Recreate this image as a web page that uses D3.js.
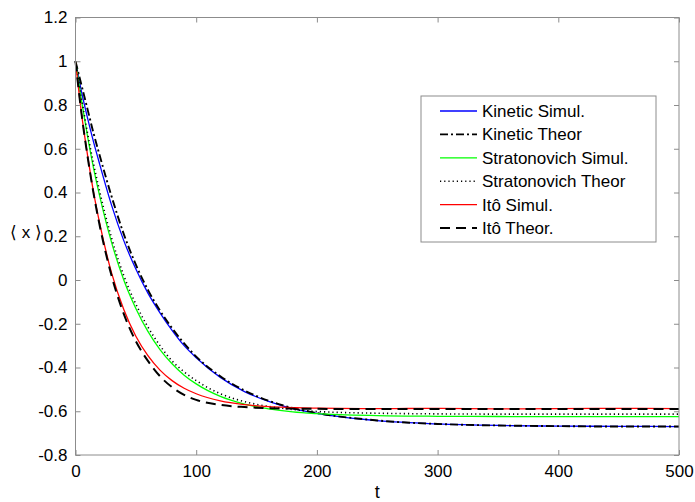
<!DOCTYPE html>
<html>
<head>
<meta charset="utf-8">
<script src="https://cdn.jsdelivr.net/npm/d3@7"></script>
<style>
  body { margin: 0; background: #fff; }
  svg text { font-family: "Liberation Sans", Arial, Helvetica, sans-serif; fill: #000; }
</style>
</head>
<body>
<svg id="chart" width="695" height="502"></svg>
<script>
// time samples
const tVals = [0, 5, 10, 15, 20, 30, 40, 50, 60, 70, 80, 90, 100, 120, 140, 160, 180, 200, 250, 300, 350, 400, 450, 500];

const kineticSimul = [1, 0.86, 0.74, 0.63, 0.53, 0.34, 0.18, 0.05, -0.06, -0.15, -0.23, -0.30, -0.355, -0.445, -0.51, -0.555, -0.588, -0.61, -0.643, -0.658, -0.665, -0.668, -0.669, -0.67];
const kineticTheor = [1, 0.89, 0.78, 0.67, 0.57, 0.38, 0.21, 0.07, -0.045, -0.14, -0.22, -0.29, -0.35, -0.44, -0.505, -0.552, -0.585, -0.608, -0.642, -0.658, -0.665, -0.668, -0.67, -0.67];
const stratSimul = [1, 0.82, 0.656, 0.51, 0.385, 0.17, 0.0, -0.13, -0.235, -0.318, -0.383, -0.435, -0.475, -0.532, -0.567, -0.589, -0.603, -0.611, -0.62, -0.623, -0.624, -0.625, -0.625, -0.625];
const stratTheor = [1, 0.83, 0.67, 0.53, 0.405, 0.19, 0.02, -0.11, -0.215, -0.30, -0.37, -0.42, -0.46, -0.52, -0.556, -0.578, -0.592, -0.601, -0.609, -0.612, -0.613, -0.613, -0.613, -0.613];
const itoSimul = [1, 0.76, 0.57, 0.40, 0.26, 0.03, -0.135, -0.257, -0.346, -0.412, -0.46, -0.495, -0.52, -0.553, -0.57, -0.579, -0.583, -0.586, -0.588, -0.587, -0.589, -0.588, -0.587, -0.588];
const itoTheor = [1, 0.76, 0.565, 0.395, 0.25, 0.017, -0.155, -0.28, -0.37, -0.44, -0.49, -0.525, -0.548, -0.571, -0.581, -0.586, -0.588, -0.589, -0.59, -0.59, -0.59, -0.59, -0.59, -0.59];

const seriesNames = ["Kinetic Simul.", "Kinetic Theor", "Stratonovich Simul.", "Stratonovich Theor", "Itô Simul.", "Itô Theor."];
const seriesValues = [kineticSimul, kineticTheor, stratSimul, stratTheor, itoSimul, itoTheor];
const seriesColors = ["#0000ff", "#000000", "#00ff00", "#000000", "#ff0000", "#000000"];
const seriesDash = [null, "8,3,2,3", null, "1.2,3", null, "10,6"];
const seriesWidth = [1.3, 1.9, 1.3, 1.6, 1.3, 2];

const xTicks = [0, 100, 200, 300, 400, 500];
const yTicks = [-0.8, -0.6, -0.4, -0.2, 0, 0.2, 0.4, 0.6, 0.8, 1, 1.2];

const box = {left: 75.5, right: 679, top: 17.5, bottom: 455};
const axisColor = "#8c8c8c";

const svg = d3.select("#chart");

const x = d3.scaleLinear().domain([0, 500]).range([box.left, box.right]);
const y = d3.scaleLinear().domain([-0.8, 1.2]).range([box.bottom, box.top]);

// curves
const line = d3.line()
  .x(d => x(d[0]))
  .y(d => y(d[1]))
  .curve(d3.curveMonotoneX);

seriesValues.forEach((vals, i) => {
  svg.append("path")
    .datum(tVals.map((t, j) => [t, vals[j]]))
    .attr("fill", "none")
    .attr("stroke", seriesColors[i])
    .attr("stroke-width", seriesWidth[i])
    .attr("stroke-dasharray", seriesDash[i])
    .attr("d", line);
});

// axes, ticks point inward on every side
const tickLen = 5;
const fmt = d => d3.format("")(d).replace("\u2212", "-");

svg.append("g")
  .attr("transform", `translate(0,${box.bottom})`)
  .call(d3.axisBottom(x).tickValues(xTicks).tickSizeInner(-tickLen).tickSizeOuter(0).tickPadding(10).tickFormat(fmt))
  .call(g => g.selectAll("text").attr("font-size", 17).attr("fill", "#000"));

svg.append("g")
  .attr("transform", `translate(${box.left},0)`)
  .call(d3.axisLeft(y).tickValues(yTicks).tickSizeInner(-tickLen).tickSizeOuter(0).tickPadding(8).tickFormat(fmt))
  .call(g => g.selectAll("text").attr("font-size", 17).attr("fill", "#000"));

svg.append("g")
  .attr("transform", `translate(0,${box.top})`)
  .call(d3.axisTop(x).tickValues(xTicks).tickSizeInner(-tickLen).tickSizeOuter(0).tickFormat(""));

svg.append("g")
  .attr("transform", `translate(${box.right},0)`)
  .call(d3.axisRight(y).tickValues(yTicks).tickSizeInner(-tickLen).tickSizeOuter(0).tickFormat(""));

svg.selectAll(".domain").remove();
svg.selectAll(".tick line").attr("stroke", axisColor);

svg.append("rect")
  .attr("x", box.left).attr("y", box.top)
  .attr("width", box.right - box.left).attr("height", box.bottom - box.top)
  .attr("fill", "none").attr("stroke", axisColor).attr("stroke-width", 1);

// axis labels
svg.append("text")
  .attr("x", (box.left + box.right) / 2).attr("y", 498)
  .attr("text-anchor", "middle").attr("font-size", 18)
  .text("t");

svg.append("text")
  .attr("x", 26).attr("y", 238)
  .attr("text-anchor", "middle").attr("font-size", 17)
  .text("\u27E8 x \u27E9");

// legend
const legend = svg.append("g");
legend.append("rect")
  .attr("x", 421).attr("y", 96).attr("width", 235).attr("height", 146)
  .attr("fill", "#fff").attr("stroke", axisColor).attr("stroke-width", 1);

seriesNames.forEach((name, i) => {
  const ly = 111 + i * 23.4;
  legend.append("line")
    .attr("x1", 440).attr("x2", 477).attr("y1", ly).attr("y2", ly)
    .attr("stroke", seriesColors[i])
    .attr("stroke-width", seriesWidth[i])
    .attr("stroke-dasharray", seriesDash[i]);
  legend.append("text")
    .attr("x", 482).attr("y", ly + 6)
    .attr("font-size", 17)
    .text(name);
});
</script>
</body>
</html>
